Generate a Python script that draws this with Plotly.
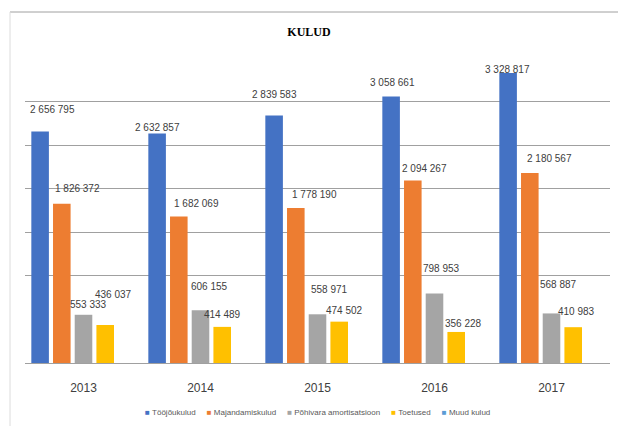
import plotly.graph_objects as go

years = [2013, 2014, 2015, 2016, 2017]
series_names = ["Tööjõukulud", "Majandamiskulud", "Põhivara amortisatsioon", "Toetused", "Muud kulud"]
toojoukulud = [2656795, 2632857, 2839583, 3058661, 3328817]
majandamiskulud = [1826372, 1682069, 1778190, 2094267, 2180567]
pohivara = [553333, 606155, 558971, 798953, 568887]
toetused = [436037, 414489, 474502, 356228, 410983]
muud_kulud = [None, None, None, None, None]

colors = ["#4472C4", "#ED7D31", "#A5A5A5", "#FFC000", "#5B9BD5"]

# label offsets (px) relative to top of each bar (style only)
label_dx = [[12, 0, 0, 1, -1], [16, 18, 19, 12, 20], [5, 9, 12, 7, 7], [8, 0, 5, 7, 3]]
label_dy = [[22, 6, 21, 14, 3], [15, 13, 14, 12, 14], [10, 24, 25, 25, 29], [31, 12, 11, 8, 16]]

all_series = [toojoukulud, majandamiskulud, pohivara, toetused, muud_kulud]

W, H = 618, 426
ml, mr, mt, mb = 24.5, 7.5, 58, 63
bargap = 0.073
nslots = 5
slot = (1 - bargap) / nslots

fig = go.Figure()
for name, vals, col in zip(series_names, all_series, colors):
    fig.add_trace(go.Bar(x=years, y=vals, name=name, marker_color=col,
                         marker_line_width=0, showlegend=False))

def fmt(v):
    return f"{v:,}".replace(",", " ")

annotations = []
for k, vals in enumerate(all_series[:4]):
    for i, (yr, v) in enumerate(zip(years, vals)):
        annotations.append(dict(
            x=yr + (k - 2) * slot, y=v, xref="x", yref="y",
            text=fmt(v), showarrow=False, xanchor="center", yanchor="middle",
            xshift=label_dx[k][i], yshift=label_dy[k][i],
            font=dict(family="Liberation Sans", size=10, color="#404040")))

pw = W - ml - mr
ph = H - mt - mb

# legend (drawn as text with coloured square glyphs)
sep = "&nbsp;" * 5
legend_text = sep.join(
    f"<span style='color:{c}'>■</span>&nbsp;{n}" for n, c in zip(series_names, colors))
annotations.append(dict(
    x=(318 - ml) / pw, y=-(412 - (H - mb)) / ph, xref="paper", yref="paper",
    text=legend_text, showarrow=False, xanchor="center", yanchor="middle",
    font=dict(family="Liberation Sans", size=8, color="#595959")))

shapes = [
    dict(type="line", xref="paper", yref="paper",
         x0=(9.5 - ml) / pw, x1=(W + 5 - ml) / pw,
         y0=(H - mb - 12) / ph, y1=(H - mb - 12) / ph,
         line=dict(color="#a0a0a0", width=1)),
    dict(type="line", xref="paper", yref="paper",
         x0=(9.5 - ml) / pw, x1=(9.5 - ml) / pw,
         y0=(H - mb - 12) / ph, y1=-(mb + 5) / ph,
         line=dict(color="#dcdcdc", width=1)),
]

fig.update_layout(
    width=W, height=H,
    margin=dict(l=ml, r=mr, t=mt, b=mb, pad=0),
    paper_bgcolor="white", plot_bgcolor="white",
    barmode="group", bargap=bargap, bargroupgap=0.19,
    showlegend=False,
    title=dict(text="<b>KULUD</b>", x=0.5, xanchor="center", y=1 - 32 / H, yanchor="middle",
               font=dict(family="Liberation Serif", size=12, color="#000000")),
    xaxis=dict(tickmode="array", tickvals=years, ticktext=[str(y) for y in years],
               range=[years[0] - 0.5, years[-1] + 0.5], showgrid=False, zeroline=False,
               showline=True, linecolor="#a0a0a0", linewidth=1, ticks="",
               ticklabelstandoff=14,
               tickfont=dict(family="Liberation Sans", size=12, color="#404040")),
    yaxis=dict(range=[0, 3500000], tickmode="array",
               tickvals=[1000000, 1500000, 2000000, 2500000, 3000000, 3500000],
               showticklabels=False, showgrid=True, gridcolor="#a0a0a0", gridwidth=1,
               zeroline=False, showline=False),
    annotations=annotations,
    shapes=shapes,
)

fig.write_html("out.html", config={"displayModeBar": False},
               post_script="document.body.style.margin='0';document.body.style.overflow='hidden';")
